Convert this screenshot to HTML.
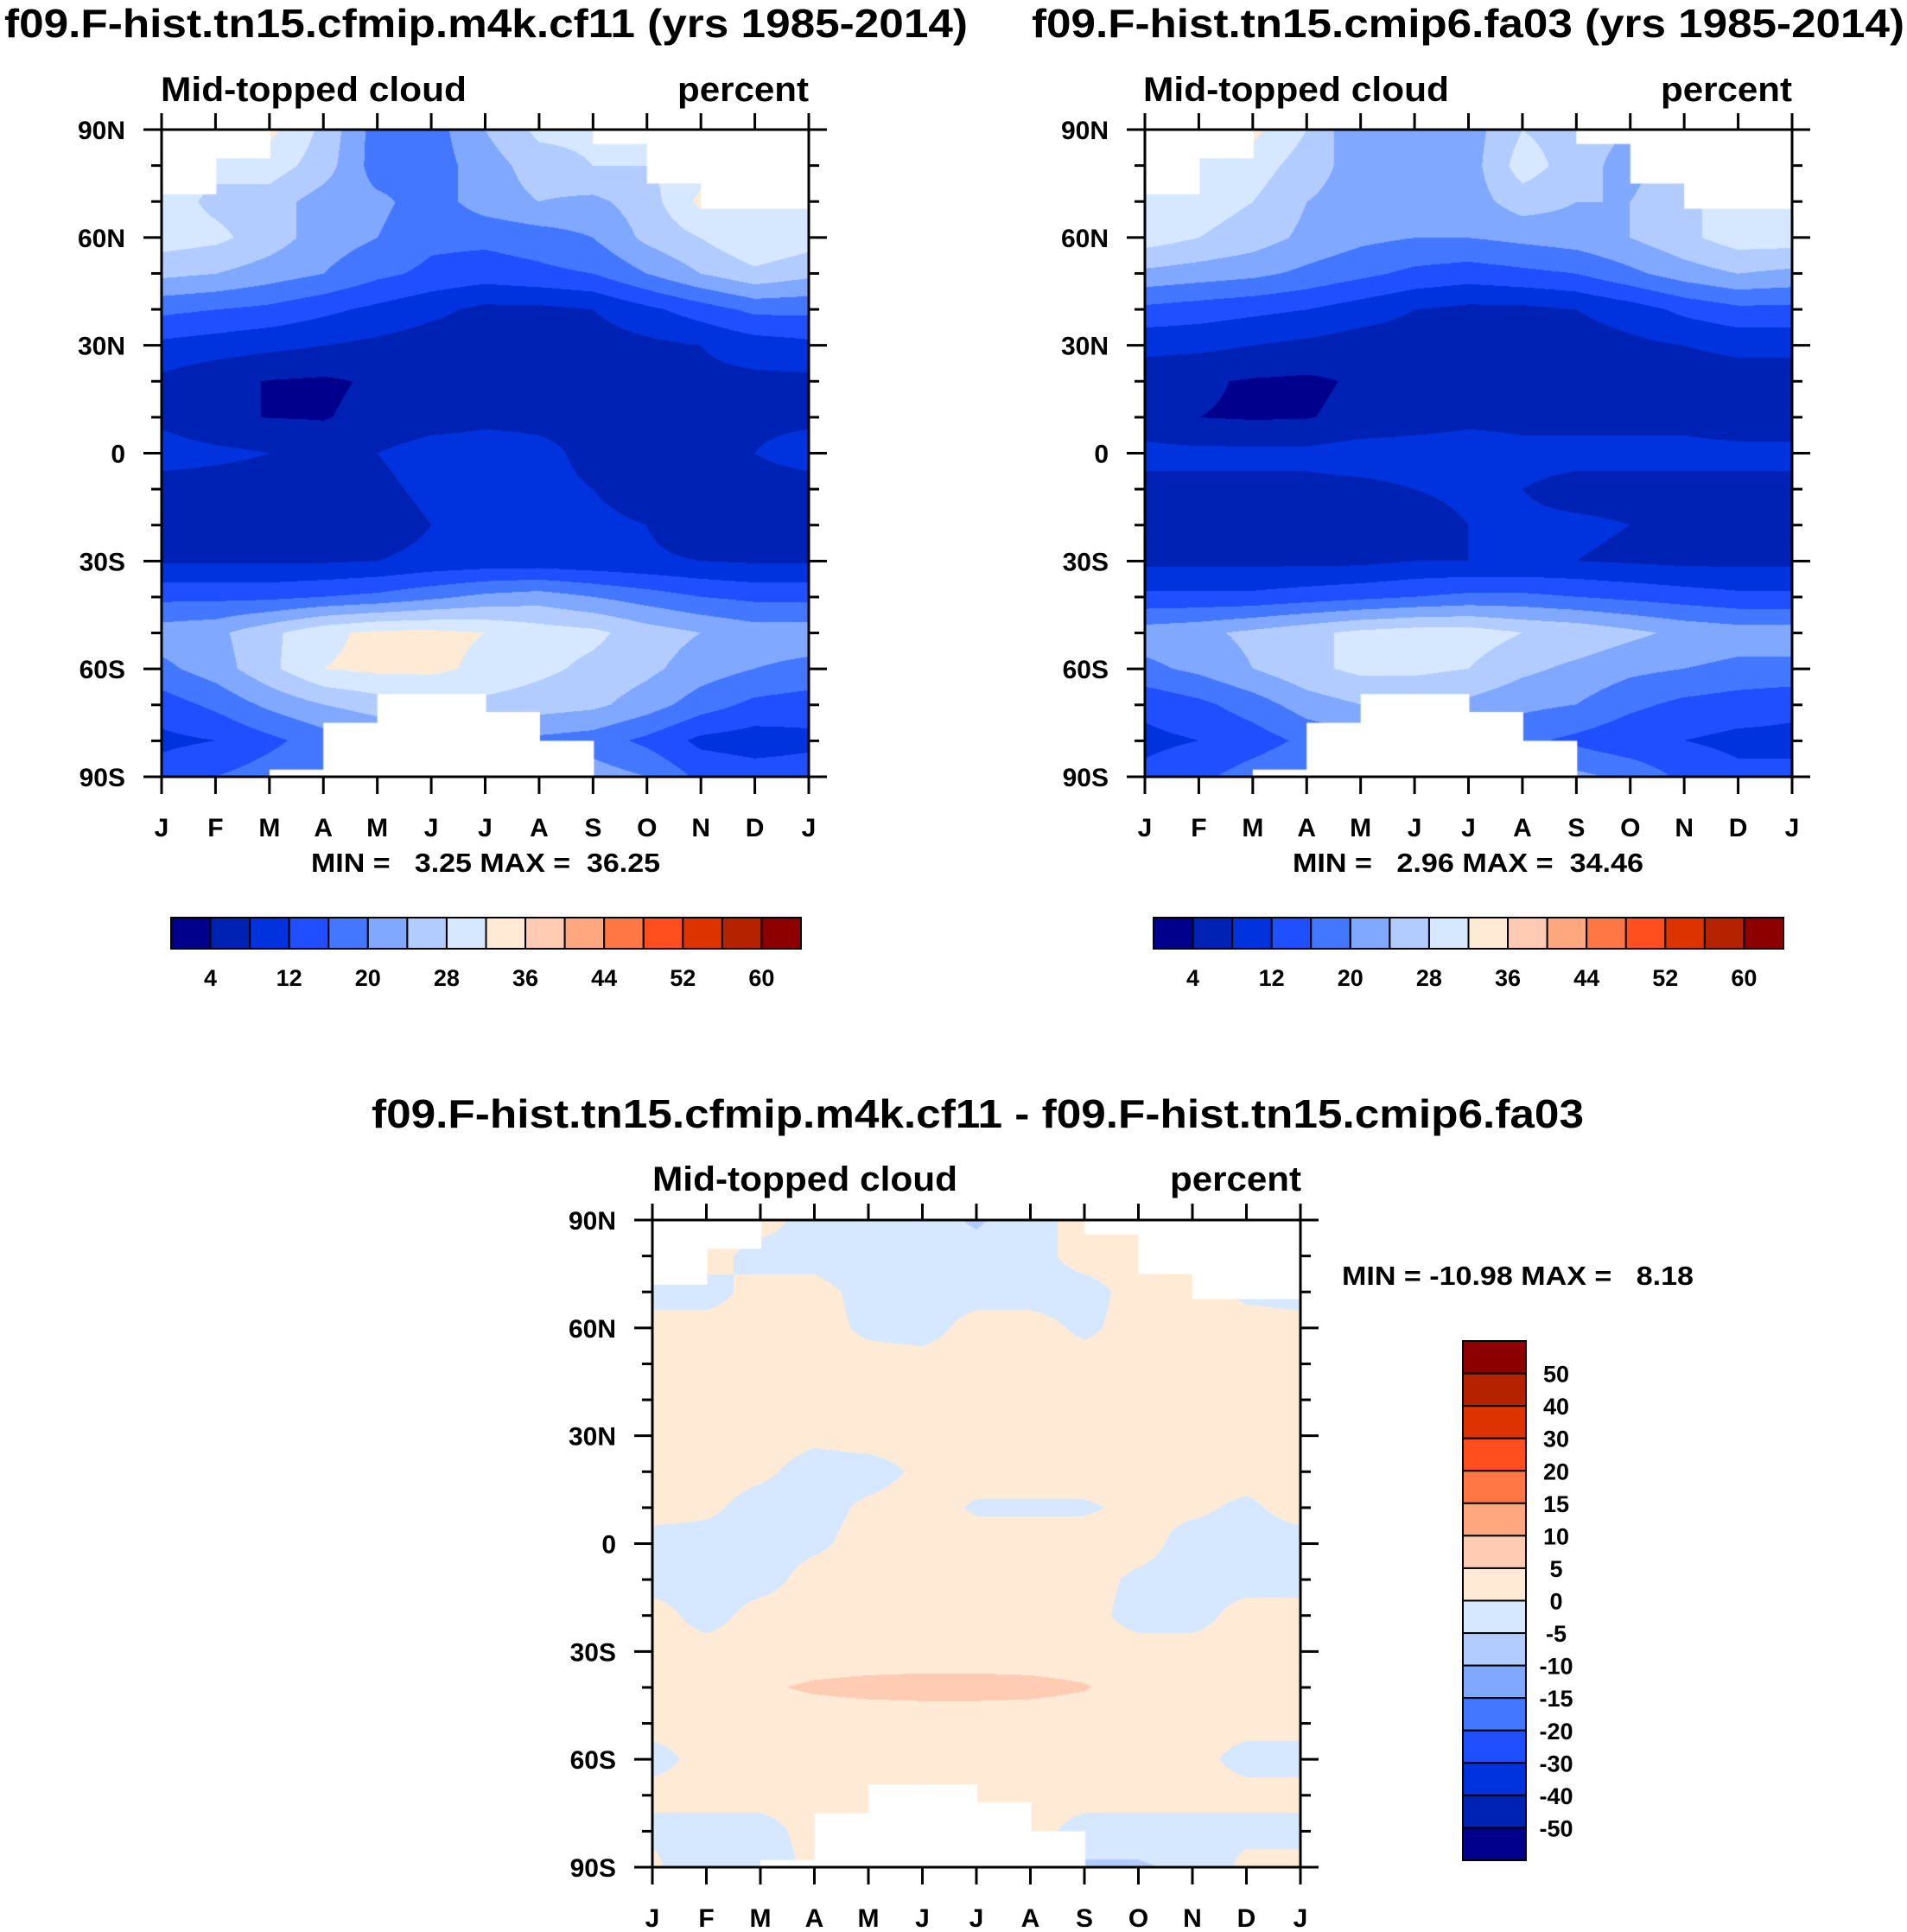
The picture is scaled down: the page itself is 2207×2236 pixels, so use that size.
<!DOCTYPE html>
<html><head><meta charset="utf-8">
<style>
html,body{margin:0;padding:0;background:#fff;}
#wrap{position:relative;width:2207px;height:2236px;overflow:hidden;background:#fff;}
canvas{position:absolute;}
svg{position:absolute;left:0;top:0;}
text{font-family:"Liberation Sans",sans-serif;font-weight:bold;fill:#000;white-space:pre;}
</style></head>
<body>
<div id="wrap">
<canvas id="c1"></canvas>
<canvas id="c2"></canvas>
<canvas id="c3"></canvas>
<svg id="s" width="2207" height="2236" xml:space="preserve"></svg>
</div>
<script>
// ---- data ----
const months = ["J","F","M","A","M","J","J","A","S","O","N","D","J"];
const latLabels = ["90N","60N","30N","0","30S","60S","90S"];
const levelsAbs = [4,8,12,16,20,24,28,32,36,40,44,48,52,56,60];
const levelsDiff = [-50,-40,-30,-20,-15,-10,-5,0,5,10,15,20,30,40,50];
const absTickLabels = ["4","12","20","28","36","44","52","60"];
const diffTickLabels = ["50","40","30","20","15","10","5","0","-5","-10","-15","-20","-30","-40","-50"];
const colors = ["#00008C","#0022B4","#0033DD","#1F4FFF","#4477FF","#80A8FF","#B3CCFF","#D6E8FF","#FFEAD6","#FFCCB3","#FFA880","#FF7744","#FF4F1F","#DD3300","#B42200","#8C0000"];
// rows: 90N..90S every 10 deg; cols: Jan..Dec
const gridA = [
[30,30,33,27,18,18,24,29,29,30,30,30],
[30,29,30,26,18,18,22,26,28,28,30,30],
[30,27,26,22,21,18,22,24,23,26,33,30],
[30,29,26,22,20,17,17,18,20,25,28,32],
[25,24,22,20,17,15,14,15,16,20,24,27],
[17,16,15,13,11,9,7,7,8,11,14,17],
[11,10,9,8,7,6,6,6,6,7,8,10],
[7,5,3.8,3.4,4.5,6,6,6,6,6,7,7],
[7,4.5,3.9,3.8,5,6,7,7,7,7,7,7],
[10,9,8,6,8,10,10,9,7,6,6,8],
[6,6,6,6,7,9,9,9,8,6,6,6],
[6,6,6,6,6,8,9,9,9,8,6,6],
[7.5,7.5,7.5,7.5,8,9,9.5,9.5,9,8.5,8,7.5],
[15,15,15,16,17,19,21,22,20,18,16,15],
[22,23,27,31,33,33,32,30,29,26,24,22],
[19,22,27,32,33,33,31,29,27,25,22,20],
[14,17,21,24,26,27,27,26,25,22,18,15],
[11,12,15,18,20,20,20,19,18,15,11,10],
[14,16,18,20,20,20,20,20,22,20,15,14]];
const gridB = [
[32,32,33,28,20,20,22,28,26,24,28,28],
[32,30,30,26,22,20,22,30,26,22,28,28],
[32,30,28,24,22,21,22,26,24,24,28,28],
[30,28,26,23,21,20,20,21,22,24,27,30],
[23,22,21,19,17,15,14,15,16,19,22,24],
[15,14,13,12,10,8,7,7,8,10,13,15],
[9,9,8,7,6,6,6,6,6,7,8,9],
[6,4.5,3.6,3.3,4.5,6,6,6,6,6,6,6],
[6,4,3.6,3.8,5,6,7,7,7,7,7,6],
[9,9,9,9,10,10,10,9,9,9,9,9],
[7,7,7,7,7,8,8.5,8,7,7,7,7],
[6,6,6,6,6,7,8,8.5,8.5,8,7,6],
[7,7,7,7,7,8,8,8,8,7.5,7,7],
[13,13,13,14,15,16,17,17,16,15,14,13],
[22,23,25,27,29,30,30,28,27,25,23,22],
[19,21,24,27,29,29,28,25,23,21,20,19],
[13,15,18,22,24,24,23,21,20,17,15,14],
[11,12,14,17,19,19,19,17,15,13,12,11],
[13,15,18,20,20,20,20,20,21,19,15,13]];
const gridD = [
[1,1,1,-1,-2,-2,-6,-1,1,1,1,1],
[1,1,-1,-1,-2,-2,-2,-1,1,1,1,1],
[-1,-1,1,1,-1,-1,-1,-1,-1,1,1,-0.5],
[1,1,1,1,-0.5,-1,1,1,-0.5,1,1,1],
[1,1,1,1,1,1,1,1,1,1,1,1],
[1,1,1,1,1,1,1,1,1,1,1,1],
[1,1,1,0.5,1,1,1,1,1,1,1,1],
[1,1,0.5,-1,-1,0.5,1,1,1,1,1,1],
[1,0.5,-1,-1,0.5,1,-0.3,-0.3,-0.3,0.5,0.5,-0.5],
[-1,-1,-1,-0.5,1,1,1,1,1,1,-1,-1],
[-1,-1,-1,1,1,1,1,1,1,-0.5,-1,-1],
[1,-1,1,1,1,1,1,1,1,-1,-1,1],
[1,1,1,1,1,1,1,1,1,1,1,1],
[1,2,4,6,7,7.5,7.5,7,5.5,2,1,1],
[1,1,1,1,1,1,1,1,1,1,1,1],
[-1,1,1,1,1,1,1,1,1,1,1,-1],
[1,1,1,1,1,1,1,1,1,1,1,1],
[-1,-1,-1,1,1,1,1,1,-1,-1,-1,-1],
[1,-4,-2,1,1,1,1,1,-6,-6,-3,1]];
// missing-data limits per month interval (degrees)
const maskTop = [72,82,null,null,null,null,null,null,86,75,68,68];
const maskBottom = [null,null,-88,-75,-67,-67,-72,-80,null,null,null,null];

// ---- layout ----
const NS="http://www.w3.org/2000/svg";
const svg=document.getElementById('s');
function el(tag,attrs,parent){const e=document.createElementNS(NS,tag);for(const k in attrs)e.setAttribute(k,attrs[k]);(parent||svg).appendChild(e);return e;}
function txt(x,y,s,size,anchor,name,len){const t=el('text',{x:x,y:y,'font-size':size,'text-anchor':anchor||'start'});
 if(len){t.setAttribute('textLength',len);t.setAttribute('lengthAdjust','spacingAndGlyphs');}
 t.textContent=s;
 
 
 return t;}
function colorFor(v,levels){let i=0;while(i<levels.length&&v>=levels[i])i++;return colors[i];}
function hex(c){return [parseInt(c.substr(1,2),16),parseInt(c.substr(3,2),16),parseInt(c.substr(5,2),16)];}

function drawPanel(cid,grid,levels,L,T,W,H){
 const cv=document.getElementById(cid);cv.width=W;cv.height=H;cv.style.left=L+'px';cv.style.top=T+'px';
 const ctx=cv.getContext('2d');const img=ctx.createImageData(W,H);
 const nr=grid.length, nc=12;
 const cache={};
 for(let py=0;py<H;py++){
  const fy=py/(H-1)*(nr-1);const j0=Math.min(Math.floor(fy),nr-2);const ty=fy-j0;
  for(let px=0;px<W;px++){
   const fx=px/(W-1)*nc;const i0=Math.min(Math.floor(fx),nc-1);const tx=fx-i0;const i1=(i0+1)%nc;
   const v=(grid[j0][i0]*(1-tx)+grid[j0][i1]*tx)*(1-ty)+(grid[j0+1][i0]*(1-tx)+grid[j0+1][i1]*tx)*ty;
   const c=colorFor(v,levels);const rgb=cache[c]||(cache[c]=hex(c));
   const k=(py*W+px)*4;img.data[k]=rgb[0];img.data[k+1]=rgb[1];img.data[k+2]=rgb[2];img.data[k+3]=255;
  }}
 ctx.putImageData(img,0,0);
 ctx.fillStyle='#fff';
 const ly=lat=>(90-lat)/180*H;
 for(let m=0;m<12;m++){
  const x0=m*W/12,x1=(m+1)*W/12;
  if(maskTop[m]!==null)ctx.fillRect(x0,0,x1-x0+1,ly(maskTop[m]));
  if(maskBottom[m]!==null)ctx.fillRect(x0,ly(maskBottom[m]),x1-x0+1,H-ly(maskBottom[m]));
 }
 const g=el('g',{});
 el('rect',{x:L,y:T,width:W,height:H,fill:'none',stroke:'#000','stroke-width':3},g);
 for(let d=0;d<=18;d++){
  const y=T+d*H/18;const major=d%3===0;const len=major?21:12;
  el('line',{x1:L-len,y1:y,x2:L,y2:y,stroke:'#000','stroke-width':3},g);
  el('line',{x1:L+W,y1:y,x2:L+W+len,y2:y,stroke:'#000','stroke-width':3},g);
  if(major) txt(L-42,y+11,latLabels[d/3],30,'end','lat-label-'+latLabels[d/3]);
 }
 for(let m=0;m<=12;m++){
  const x=L+m*W/12;
  el('line',{x1:x,y1:T-19,x2:x,y2:T,stroke:'#000','stroke-width':3},g);
  el('line',{x1:x,y1:T+H,x2:x,y2:T+H+20,stroke:'#000','stroke-width':3},g);
  txt(x,T+H+69,months[m],30,'middle','month-label-'+m);
 }
}
function hbar(L,T,W,H,name){
 const g=el('g',{});
 const bw=W/16;
 for(let i=0;i<16;i++) el('rect',{x:L+i*bw,y:T,width:bw,height:H,fill:colors[i],stroke:'#000','stroke-width':2},g);
 for(let k=0;k<absTickLabels.length;k++) txt(L+(2*k+1)*bw,T+H+43,absTickLabels[k],27,'middle',name+'-label');
}
function vbar(L,T,W,H,name){
 const g=el('g',{});
 const bh=H/16;
 for(let i=0;i<16;i++) el('rect',{x:L,y:T+i*bh,width:W,height:bh,fill:colors[15-i],stroke:'#000','stroke-width':2},g);
 for(let k=0;k<diffTickLabels.length;k++) txt(L+W+35,T+(k+1)*bh+10,diffTickLabels[k],27,'middle',name+'-label');
}

drawPanel('c1',gridA,levelsAbs,187,150,749,749);
drawPanel('c2',gridB,levelsAbs,1325,150,749,749);
drawPanel('c3',gridD,levelsDiff,755,1412,750,749);

txt(5,43,"f09.F-hist.tn15.cfmip.m4k.cf11 (yrs 1985-2014)",46,'start','panel1-title',1115);
txt(1194,43,"f09.F-hist.tn15.cmip6.fa03 (yrs 1985-2014)",46,'start','panel2-title',1010);
txt(430,1305,"f09.F-hist.tn15.cfmip.m4k.cf11 - f09.F-hist.tn15.cmip6.fa03",46,'start','diff-title',1403);
txt(186,117,"Mid-topped cloud",40,'start','panel1-subtitle',354);
txt(936,117,"percent",40,'end','panel1-units',152);
txt(1323,117,"Mid-topped cloud",40,'start','panel2-subtitle',354);
txt(2074,117,"percent",40,'end','panel2-units',152);
txt(755,1378,"Mid-topped cloud",40,'start','diff-subtitle',353);
txt(1506,1378,"percent",40,'end','diff-units',152);
txt(360,1009,"MIN =   3.25 MAX =  36.25",31,'start','panel1-minmax',404);
txt(1496,1009,"MIN =   2.96 MAX =  34.46",31,'start','panel2-minmax',406);
txt(1553,1487,"MIN = -10.98 MAX =   8.18",31,'start','diff-minmax',407);
hbar(198,1062,729,36,'panel1-colorbar');
hbar(1335,1062,729,36,'panel2-colorbar');
vbar(1693,1552,73,601,'diff-colorbar');
</script>
</body></html>
